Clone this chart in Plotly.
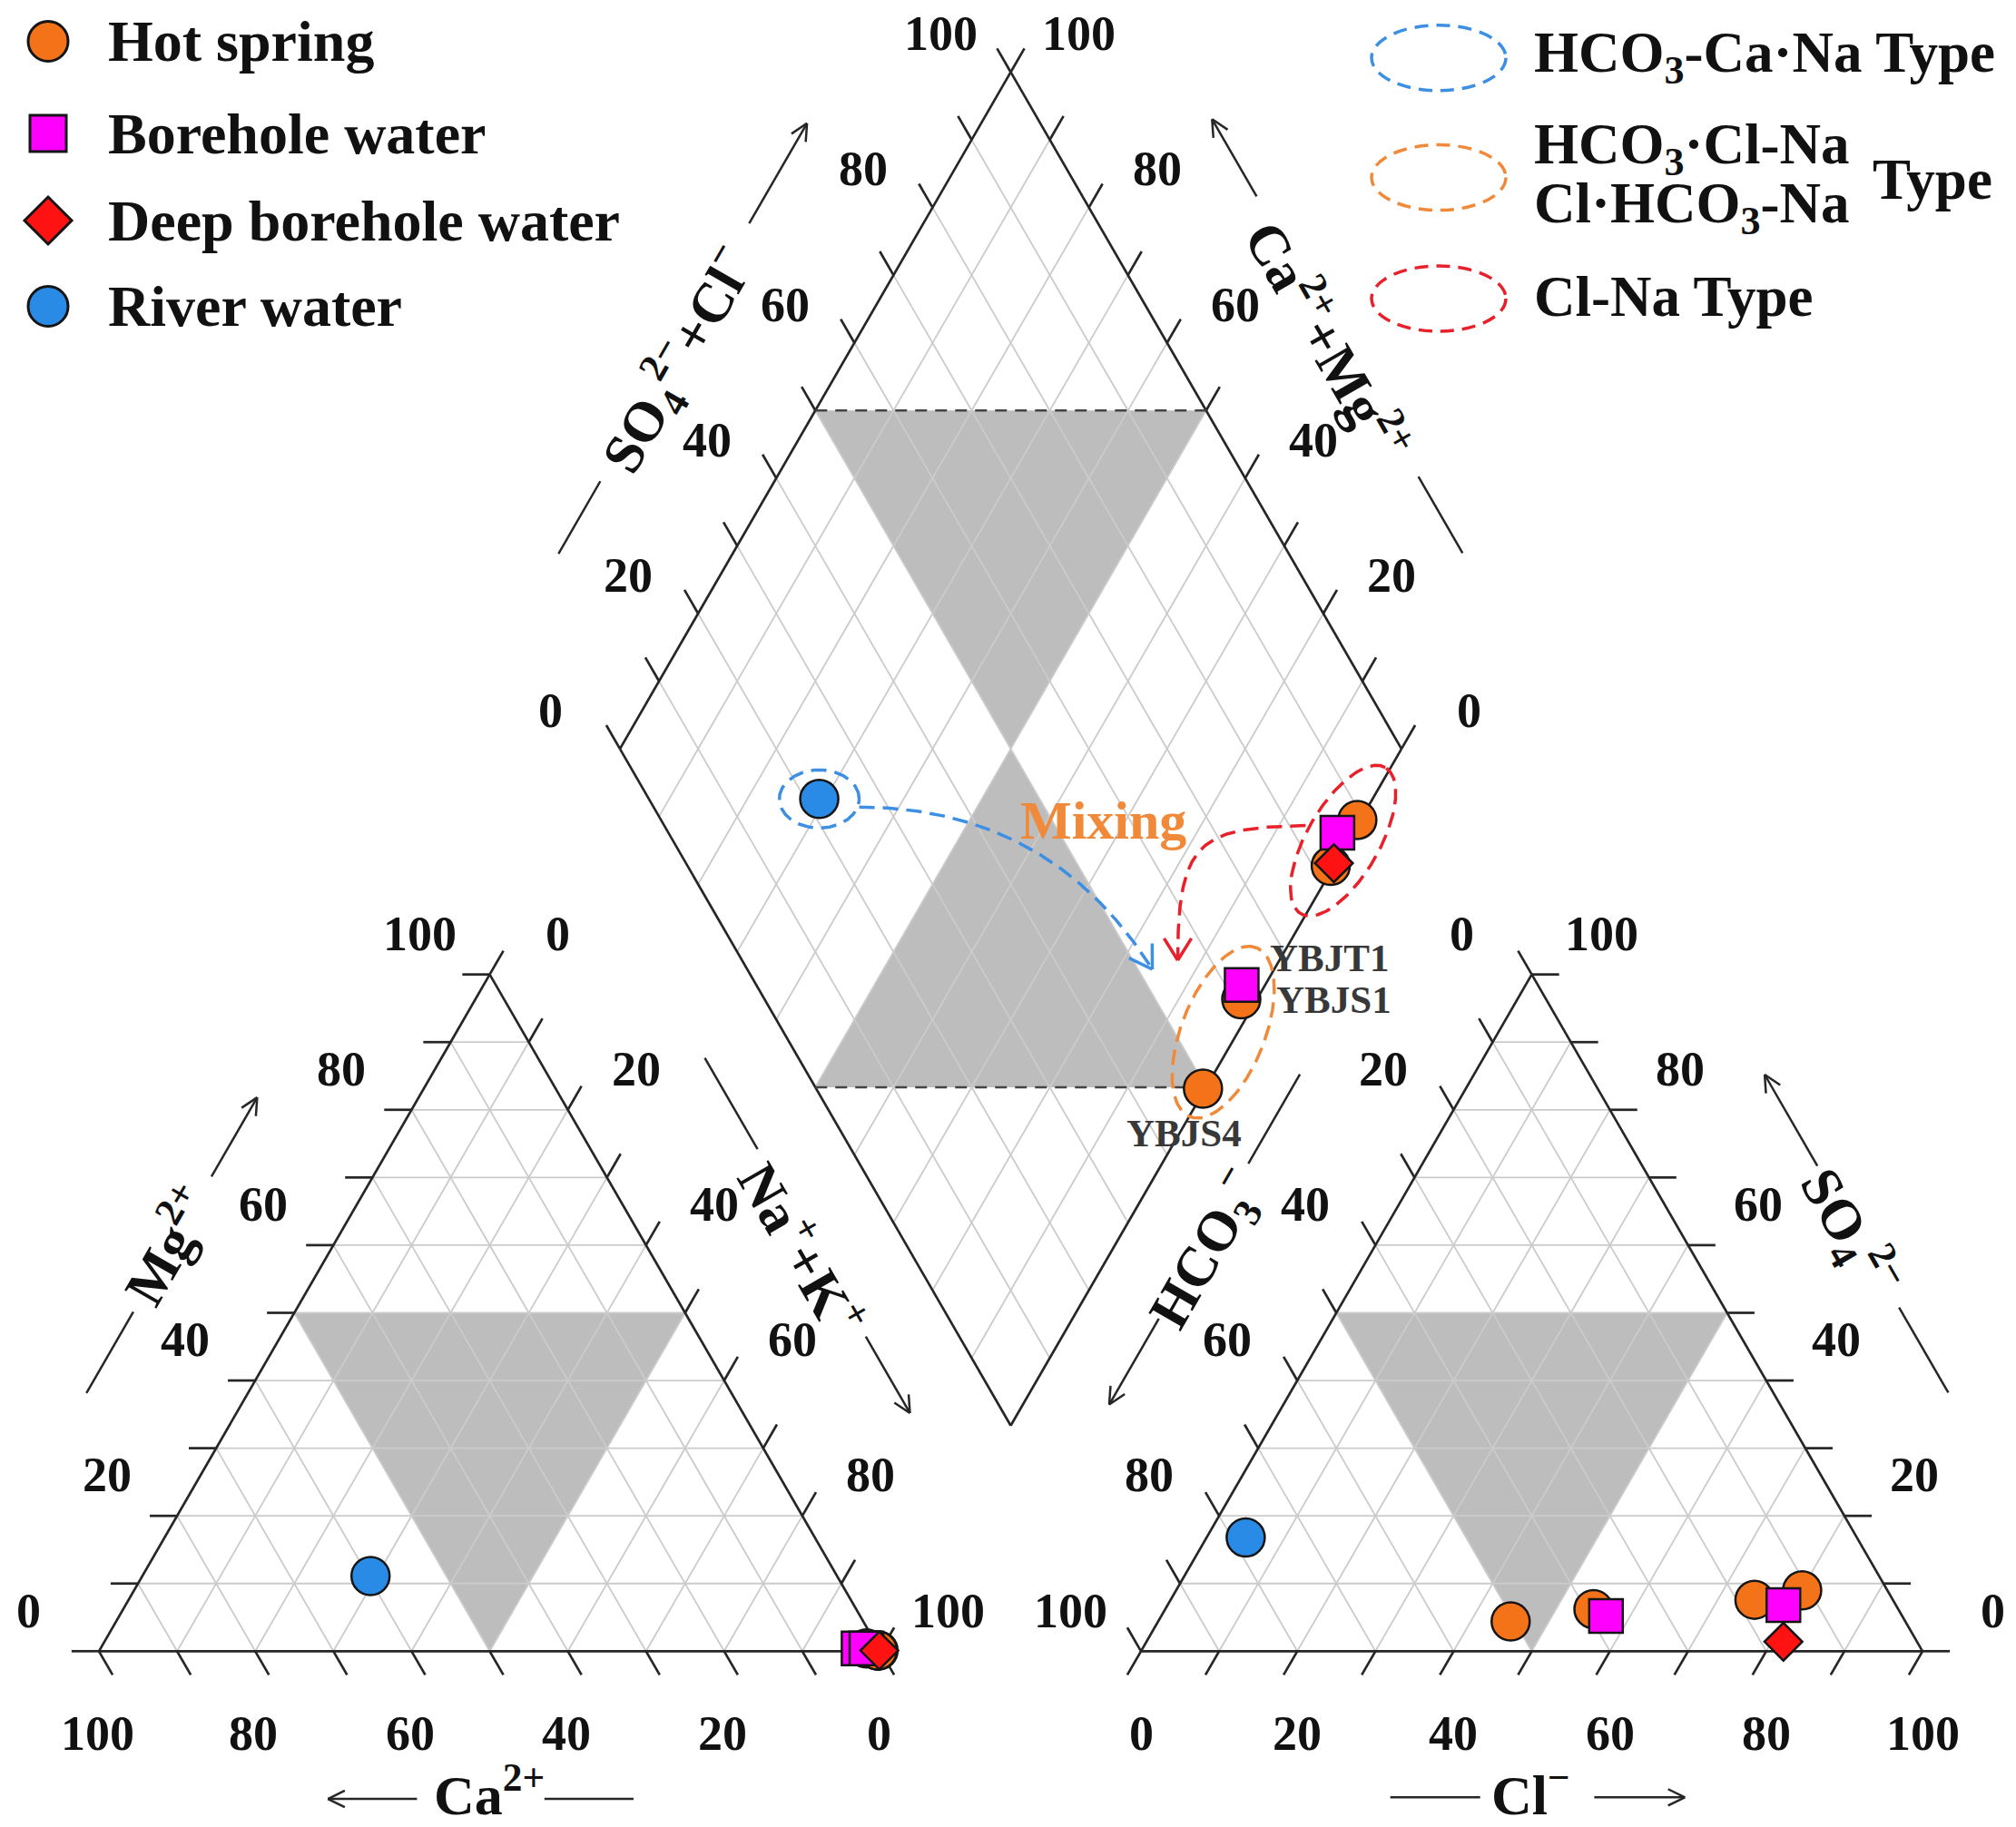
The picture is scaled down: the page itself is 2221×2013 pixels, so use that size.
import numpy as np
import plotly.graph_objects as go

# ------------------------------------------------------------------
# DATA  (meq %)
# ------------------------------------------------------------------
group_names = ["Hot spring", "Borehole water", "Deep borehole water", "River water"]

hs_names = ["YBJS4", "YBJS1", "HS-3", "HS-4"]
hs_ca = [0.2, 1.6, 0.3, 0.3]
hs_mg = [0.1, 0.4, 0.1, 0.1]
hs_nak = [99.7, 98.0, 99.6, 99.6]
hs_hco3 = [50.5, 39.0, 17.7, 10.9]
hs_so4 = [4.4, 6.2, 7.6, 9.0]
hs_cl = [45.1, 54.8, 74.7, 80.1]

bw_names = ["YBJT1", "BW-2"]
bw_ca = [2.6, 1.6]
bw_mg = [0.4, 0.4]
bw_nak = [97.0, 98.0]
bw_hco3 = [37.9, 14.4]
bw_so4 = [5.2, 6.8]
bw_cl = [56.9, 78.8]

dbw_names = ["DBW-1"]
dbw_ca = [0.1]
dbw_mg = [0.1]
dbw_nak = [99.8]
dbw_hco3 = [17.1]
dbw_so4 = [1.4]
dbw_cl = [81.5]

rw_names = ["RW-1"]
rw_ca = [59.7]
rw_mg = [11.1]
rw_nak = [29.2]
rw_hco3 = [78.2]
rw_so4 = [16.8]
rw_cl = [5.0]

tick_values = list(range(0, 101, 10))
tick_label_values = [0, 20, 40, 60, 80, 100]

# ------------------------------------------------------------------
# GEOMETRY / STYLE
# ------------------------------------------------------------------
W, HGT = 2221, 2013
S = 8.61                     # px per percent unit
X0PX, Y0PX = 109.0, 1819.3   # pixel position of the cation triangle's lower-left corner
XMIN, XMAX = -X0PX / S, (W - X0PX) / S
YMIN, YMAX = -(HGT - Y0PX) / S, Y0PX / S

H = np.sqrt(3) / 2
GAP = 100 / 3
AX0 = 100 + GAP
B = np.array([100 + GAP / 2, GAP * H])
U = np.array([-0.5, H])
V = np.array([0.5, H])
DN = np.array([0.5, -H])

FONT = "Liberation Serif"
EDGE = "#262626"
GRID = "#cbcbcb"
SHADE = "#bdbdbd"
T = 3.5

C_HS, C_BW, C_DBW, C_RW = "#f47318", "#ff00ff", "#ff1212", "#2a8be6"
C_BLUE_D, C_ORANGE_D, C_RED_D = "#3d8fe3", "#f08a3a", "#e8202a"


def paper_x(p):
    return p / W


def paper_y(p):
    return 1 - p / HGT


def cat_xy(ca, mg, na):
    ca, mg, na = (np.asarray(v, float) for v in (ca, mg, na))
    t = ca + mg + na
    mg, na = 100 * mg / t, 100 * na / t
    return na + mg / 2, mg * H


def an_xy(hco3, so4, cl):
    hco3, so4, cl = (np.asarray(v, float) for v in (hco3, so4, cl))
    t = hco3 + so4 + cl
    so4, cl = 100 * so4 / t, 100 * cl / t
    return AX0 + cl + so4 / 2, so4 * H


def dia_xy(ca, mg, na, hco3, so4, cl):
    ca, mg, na, hco3, so4, cl = (np.asarray(v, float) for v in (ca, mg, na, hco3, so4, cl))
    c = 100 * (ca + mg) / (ca + mg + na)
    a = 100 * (so4 + cl) / (hco3 + so4 + cl)
    return B[0] + 0.5 * (a - c), B[1] + H * (a + c)


fig = go.Figure()


def add_segs(segs, color, width, dash=None):
    xs, ys = [], []
    for p, q in segs:
        xs += [p[0], q[0], None]
        ys += [p[1], q[1], None]
    fig.add_trace(go.Scatter(x=xs, y=ys, mode="lines", hoverinfo="skip", showlegend=False,
                             line=dict(color=color, width=width, dash=dash)))


def add_poly(pts, fill):
    xs = [p[0] for p in pts] + [pts[0][0]]
    ys = [p[1] for p in pts] + [pts[0][1]]
    fig.add_trace(go.Scatter(x=xs, y=ys, mode="lines", fill="toself", fillcolor=fill,
                             line=dict(width=0, color=fill), hoverinfo="skip", showlegend=False))


# ---------------- shaded regions ----------------
an_off = np.array([AX0, 0])
med = [np.array([50, 0]), np.array([25, 50 * H]), np.array([75, 50 * H])]
add_poly(med, SHADE)
add_poly([p + an_off for p in med], SHADE)
centre = B + 50 * U + 50 * V
add_poly([B + 100 * U + 50 * V, B + 100 * V + 50 * U, centre], SHADE)
add_poly([B + 50 * U, B + 50 * V, centre], SHADE)

# ---------------- grid ----------------
grid = []
for k in range(10, 100, 10):
    for off in (np.array([0, 0]), an_off):
        grid.append((off + [k / 2, k * H], off + [100 - k / 2, k * H]))
        grid.append((off + [k, 0], off + [k + (100 - k) / 2, (100 - k) * H]))
        grid.append((off + [100 - k, 0], off + [(100 - k) / 2, (100 - k) * H]))
    grid.append((B + k * V, B + k * V + 100 * U))
    grid.append((B + k * U, B + k * U + 100 * V))
add_segs(grid, GRID, 1.8)

# ---------------- frames + ticks ----------------
frame = []
cBL, cBR, cAP = np.array([0, 0]), np.array([100, 0]), np.array([50, 100 * H])
aBL, aBR, aAP = cBL + an_off, cBR + an_off, cAP + an_off
dL, dR, dT = B + 100 * U, B + 100 * V, B + 100 * U + 100 * V
for a, b in [(cBL, cBR), (cBR, cAP), (cAP, cBL), (aBL, aBR), (aBR, aAP), (aAP, aBL),
             (B, dL), (dL, dT), (dT, dR), (dR, B)]:
    frame.append((a, b))
for k in tick_values:
    p = np.array([k / 2, k * H]); frame.append((p, p + [-T, 0]))                  # Mg
    p = np.array([50 + k / 2, (100 - k) * H]); frame.append((p, p + T * V))      # Na+K
    p = np.array([k, 0]); frame.append((p, p + T * DN))                           # Ca
    p = aBL + [k / 2, k * H]; frame.append((p, p + T * U))                        # HCO3
    p = aBL + [100 - k / 2, k * H]; frame.append((p, p + [T, 0]))                 # SO4
    p = aBL + [k, 0]; frame.append((p, p + T * np.array([-0.5, -H])))            # Cl
    p = B + 100 * U + k * V; frame.append((p, p + T * U))                         # SO4+Cl
    p = B + 100 * V + k * U; frame.append((p, p + T * V))                         # Ca+Mg
add_segs(frame, EDGE, 2.7)

add_segs([(B + 100 * U + 50 * V, B + 100 * V + 50 * U), (B + 50 * U, B + 50 * V)],
         "#444444", 2.5, "13px,9px")

# ---------------- axis titles (lines/arrows) ----------------
ann = []
titles = [
    (dL, V, np.array([-H, 0.5]), "SO<sub>4</sub><sup>2−</sup>+Cl<sup>−</sup>", -60, 46.8, 18.4,
     [(17.7, 28.4, False), (66.5, 81.3, True)], 19.3),
    (dR, U, np.array([H, 0.5]), "Ca<sup>2+</sup>+Mg<sup>2+</sup>", 60, 50.0, 18.3,
     [(17.8, 29.1, False), (70.5, 81.9, True)], 19.3),
    (cBL, V, np.array([-H, 0.5]), "Mg<sup>2+</sup>", -60, 49.4, 18.6,
     [(27.8, 39.8, False), (59.8, 71.5, True)], 17.9),
    (cAP, DN, np.array([H, 0.5]), "Na<sup>+</sup>+K<sup>+</sup>", 60, 50.4, 17.3,
     [(23.0, 36.5, False), (64.2, 75.5, True)], 18.5),
    (cBL, np.array([1, 0]), np.array([0, -1]), "Ca<sup>2+</sup>", 0, 49.9, 17.9,
     [(40.7, 29.3, True), (57.0, 68.4, False)], 18.9),
    (aBL, np.array([1, 0]), np.array([0, -1]), "Cl<sup>−</sup>", 0, 49.9, 17.8,
     [(31.9, 43.4, False), (58.0, 69.6, True)], 18.7),
    (aBL, V, np.array([-H, 0.5]), "HCO<sub>3</sub><sup>−</sup>", -60, 48.8, 18.6,
     [(38.0, 25.3, True), (60.9, 74.1, False)], 19.3),
    (aAP, DN, np.array([H, 0.5]), "SO<sub>4</sub><sup>2−</sup>", 60, 48.9, 18.8,
     [(39.5, 26.0, True), (60.4, 73.0, False)], 19.4),
]


def vhead(tip, direction, length, half_deg):
    d = direction / np.linalg.norm(direction)
    segs = []
    for sgn in (1, -1):
        a = np.deg2rad(sgn * half_deg)
        r = np.array([[np.cos(a), -np.sin(a)], [np.sin(a), np.cos(a)]]) @ (-d)
        segs.append((tip, tip + length * r))
    return segs


tsegs = []
for P, d, n, txt, ang, ts, toff, lines, loff in titles:
    for s0, s1, arrow in lines:
        p0 = P + s0 * d + loff * n
        p1 = P + s1 * d + loff * n
        tsegs.append((p0, p1))
        if arrow:
            tsegs += vhead(p1, p1 - p0, 2.4, 26)
    c = P + ts * d + toff * n
    ann.append(dict(x=c[0], y=c[1], xref="x", yref="y", text="<b>" + txt + "</b>", showarrow=False,
                    textangle=ang, xanchor="center", yanchor="middle",
                    font=dict(family=FONT, size=62, color="#111111")))
add_segs(tsegs, EDGE, 2.5)

# ---------------- tick labels ----------------
tl_font = dict(family=FONT, size=54, color="#111111")


def tlabel(p, txt):
    ann.append(dict(x=p[0], y=p[1], xref="x", yref="y", text="<b>%s</b>" % txt, showarrow=False,
                    xanchor="center", yanchor="middle", font=tl_font))


for k in tick_label_values:
    tlabel(np.array([k / 2, k * H]) + [-9.0, 5.2], k)                     # Mg
    tlabel(np.array([50 + k / 2, (100 - k) * H]) + [8.7, 5.2], k)         # Na+K
    tlabel(np.array([100 - k, 0]) + [-0.2, -10.5], k)                     # Ca
    tlabel(aBL + [(100 - k) / 2, (100 - k) * H] + [-9.0, 5.2], k)         # HCO3
    tlabel(aBL + [100 - k / 2, k * H] + [9.0, 5.2], k)                    # SO4
    tlabel(aBL + [k, 0] + [0, -10.5], k)                                  # Cl
    tlabel(B + 100 * U + k * V + [-8.9, 4.9], k)                          # SO4+Cl
    tlabel(B + 100 * V + k * U + [8.7, 4.9], k)                           # Ca+Mg

# ---------------- positions of samples ----------------
groups = [
    (hs_ca, hs_mg, hs_nak, hs_hco3, hs_so4, hs_cl, C_HS, "circle", 42),
    (bw_ca, bw_mg, bw_nak, bw_hco3, bw_so4, bw_cl, C_BW, "square", 37),
    (dbw_ca, dbw_mg, dbw_nak, dbw_hco3, dbw_so4, dbw_cl, C_DBW, "diamond", 32),
    (rw_ca, rw_mg, rw_nak, rw_hco3, rw_so4, rw_cl, C_RW, "circle", 42),
]
hs_d = np.array(dia_xy(hs_ca, hs_mg, hs_nak, hs_hco3, hs_so4, hs_cl)).T
bw_d = np.array(dia_xy(bw_ca, bw_mg, bw_nak, bw_hco3, bw_so4, bw_cl)).T
dbw_d = np.array(dia_xy(dbw_ca, dbw_mg, dbw_nak, dbw_hco3, dbw_so4, dbw_cl)).T
rw_d = np.array(dia_xy(rw_ca, rw_mg, rw_nak, rw_hco3, rw_so4, rw_cl)).T


def pxoff(p, dx, dy):
    """offset a data point by screen pixels (dy positive = down)."""
    return np.array([p[0] + dx / S, p[1] - dy / S])


# ---------------- group ellipses ----------------
def ellipse(center, a_px, b_px, theta_deg, color):
    t = np.linspace(0, 2 * np.pi, 240)
    th = np.deg2rad(theta_deg)
    ex = a_px * np.cos(t) * np.cos(th) - b_px * np.sin(t) * np.sin(th)
    ey = a_px * np.cos(t) * np.sin(th) + b_px * np.sin(t) * np.cos(th)
    fig.add_trace(go.Scatter(x=center[0] + ex / S, y=center[1] + ey / S, mode="lines",
                             hoverinfo="skip", showlegend=False,
                             line=dict(color=color, width=3.5, dash="17px,9px")))


ellipse(rw_d[0], 44, 32, 0, C_BLUE_D)
cluster = np.vstack([hs_d[2:4], bw_d[1:2], dbw_d])
ellipse(pxoff(cluster.mean(axis=0), 3.6, -5.3), 93, 40, 60, C_RED_D)
mixgrp = np.vstack([hs_d[0:2], bw_d[0:1]])
ellipse(pxoff(mixgrp.mean(axis=0), -6, 8.7), 100, 46, 68.6, C_ORANGE_D)


# ---------------- mixing arrows ----------------
def bezier(p0, c1, c2, p3, color):
    t = np.linspace(0, 1, 120)[:, None]
    pts = (1 - t) ** 3 * p0 + 3 * (1 - t) ** 2 * t * c1 + 3 * (1 - t) * t ** 2 * c2 + t ** 3 * p3
    fig.add_trace(go.Scatter(x=pts[:, 0], y=pts[:, 1], mode="lines", hoverinfo="skip", showlegend=False,
                             line=dict(color=color, width=3.5, dash="17px,9px")))
    segs = vhead(p3, p3 - c2, 3.3, 32)
    xs, ys = [], []
    for a, b in segs:
        xs += [a[0], b[0], None]
        ys += [a[1], b[1], None]
    fig.add_trace(go.Scatter(x=xs, y=ys, mode="lines", hoverinfo="skip", showlegend=False,
                             line=dict(color=color, width=3.5)))


s1 = hs_d[1]
b_p0 = pxoff(rw_d[0], 44, 9)
b_p3 = pxoff(s1, -98, -33)
bezier(b_p0, pxoff(b_p0, 174, 0), pxoff(b_p3, -55, -87), b_p3, C_BLUE_D)
r_p0 = pxoff(bw_d[1], -35, -8)
r_p3 = pxoff(s1, -70, -43)
bezier(r_p0, pxoff(r_p0, -117, 2), pxoff(r_p3, 0, -132), r_p3, C_RED_D)

# ---------------- sample markers ----------------
for ca, mg, na, hco3, so4, cl, col, sym, size in groups:
    cx, cy = cat_xy(ca, mg, na)
    axx, ayy = an_xy(hco3, so4, cl)
    dx, dy = dia_xy(ca, mg, na, hco3, so4, cl)
    xs = list(cx) + list(axx) + list(dx)
    ys = list(cy) + list(ayy) + list(dy)
    fig.add_trace(go.Scatter(x=xs, y=ys, mode="markers", hoverinfo="skip", showlegend=False,
                             marker=dict(symbol=sym, size=size, color=col,
                                         line=dict(color="#151515", width=2.5))))

# ---------------- point labels & "Mixing" ----------------
lab_font = dict(family=FONT, size=43, color="#383838")
for name, p, sx, sy in [(bw_names[0], bw_d[0], 97, 30), (hs_names[1], hs_d[1], 102, -1),
                        (hs_names[0], hs_d[0], -21, -49)]:
    ann.append(dict(x=p[0], y=p[1], xref="x", yref="y", text="<b>%s</b>" % name, showarrow=False,
                    xshift=sx, yshift=sy, xanchor="center", yanchor="middle", font=lab_font))
mix_pos = pxoff(rw_d[0], 313, 24)
ann.append(dict(x=mix_pos[0], y=mix_pos[1], xref="x", yref="y", text="<b>Mixing</b>", showarrow=False,
                xanchor="center", yanchor="middle", font=dict(family=FONT, size=60, color="#f08a3a")))

# ---------------- legends (drawn in page pixels) ----------------
shapes = []
leg_font = dict(family=FONT, size=64, color="#111111")
left_rows = [45.5, 147, 243, 337.5]
mk_x = 53
r = 22
shapes.append(dict(type="circle", xref="paper", yref="paper", x0=paper_x(mk_x - r), x1=paper_x(mk_x + r),
                   y0=paper_y(left_rows[0] + r), y1=paper_y(left_rows[0] - r), fillcolor=C_HS,
                   line=dict(color="#151515", width=3)))
hs_sq = 20
shapes.append(dict(type="rect", xref="paper", yref="paper", x0=paper_x(mk_x - hs_sq), x1=paper_x(mk_x + hs_sq),
                   y0=paper_y(left_rows[1] + hs_sq), y1=paper_y(left_rows[1] - hs_sq), fillcolor=C_BW,
                   line=dict(color="#151515", width=3)))
hd = 26
yd = left_rows[2]
shapes.append(dict(type="path", xref="paper", yref="paper",
                   path="M %f,%f L %f,%f L %f,%f L %f,%f Z" % (
                       paper_x(mk_x - hd), paper_y(yd), paper_x(mk_x), paper_y(yd - hd),
                       paper_x(mk_x + hd), paper_y(yd), paper_x(mk_x), paper_y(yd + hd)),
                   fillcolor=C_DBW, line=dict(color="#151515", width=3)))
shapes.append(dict(type="circle", xref="paper", yref="paper", x0=paper_x(mk_x - r), x1=paper_x(mk_x + r),
                   y0=paper_y(left_rows[3] + r), y1=paper_y(left_rows[3] - r), fillcolor=C_RW,
                   line=dict(color="#151515", width=3)))
for name, yy in zip(group_names, left_rows):
    ann.append(dict(x=paper_x(117), y=paper_y(yy), xref="paper", yref="paper", text="<b>%s</b>" % name,
                    showarrow=False, xanchor="left", yanchor="middle", font=leg_font))

ell_rows = [63.8, 195.6, 329]
for yy, col in zip(ell_rows, [C_BLUE_D, C_ORANGE_D, C_RED_D]):
    shapes.append(dict(type="circle", xref="paper", yref="paper", x0=paper_x(1585 - 74), x1=paper_x(1585 + 74),
                       y0=paper_y(yy + 36), y1=paper_y(yy - 36),
                       line=dict(color=col, width=3.5, dash="15px,9px")))
right_texts = [
    ("HCO<sub>3</sub>-Ca·Na Type", 1688, 63),
    ("HCO<sub>3</sub>·Cl-Na", 1688, 163),
    ("Cl·HCO<sub>3</sub>-Na", 1688, 228),
    ("Type", 2061, 198),
    ("Cl-Na Type", 1688, 327),
]
for txt, xx, yy in right_texts:
    ann.append(dict(x=paper_x(xx), y=paper_y(yy), xref="paper", yref="paper", text="<b>%s</b>" % txt,
                    showarrow=False, xanchor="left", yanchor="middle",
                    font=dict(family=FONT, size=63, color="#111111")))

fig.update_layout(
    width=W, height=HGT, margin=dict(l=0, r=0, t=0, b=0),
    paper_bgcolor="white", plot_bgcolor="white",
    xaxis=dict(range=[XMIN, XMAX], visible=False, fixedrange=True),
    yaxis=dict(range=[YMIN, YMAX], visible=False, fixedrange=True),
    showlegend=False, annotations=ann, shapes=shapes,
)
fig.write_html("out.html", config={"displayModeBar": False},
               post_script="document.body.style.margin='0';document.body.style.overflow='hidden';")
